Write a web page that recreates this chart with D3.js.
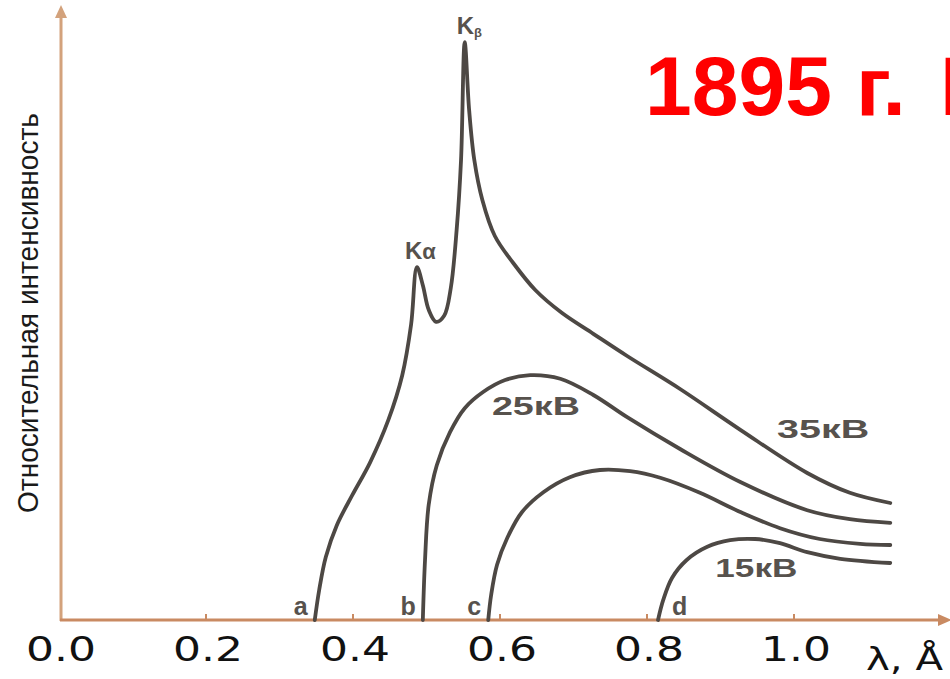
<!DOCTYPE html>
<html>
<head>
<meta charset="utf-8">
<script src="https://cdn.jsdelivr.net/npm/d3@7"></script>
<style>
  html, body { margin: 0; padding: 0; background: #fff; overflow: hidden; }
  svg { display: block; }
</style>
</head>
<body>
<svg id="chart" width="950" height="679"></svg>
<script>
// ---------- data (λ in Å, relative intensity in arbitrary units) ----------
const xTicks = [0.0, 0.2, 0.4, 0.6, 0.8, 1.0];
const xTickLabels = ["0.0", "0.2", "0.4", "0.6", "0.8", "1.0"];
const xAxisTitle = "λ, Å";
const yAxisTitle = "Относительная интенсивность";
const headlineParts = ["1895", "г.", "Рентген"];

const lam35 = [0.348,0.354,0.363,0.378,0.399,0.423,0.448,0.467,0.479,0.487,0.495,0.503,0.513,0.524,0.533,0.541,0.547,0.552,0.558,0.565,0.576,0.593,0.618,0.648,0.684,0.727,0.773,0.845,0.927,1.018,1.076,1.131];
const int35 = [0,5.0,10.5,15.8,20.8,26.2,33.3,40.8,49.2,58.8,55.8,51.7,49.7,50.7,55.3,65.0,76.7,96.3,85.0,76.7,70.0,64.0,59.5,55.0,51.2,47.7,44.0,38.5,31.7,24.5,21.2,19.5];

const lam25 = [0.495,0.498,0.503,0.514,0.532,0.552,0.577,0.607,0.641,0.682,0.727,0.773,0.845,0.927,1.018,1.076,1.131];
const int25 = [0,10.0,19.2,25.8,31.3,35.3,38.0,40.0,40.8,40.2,37.5,33.8,28.5,23.0,18.3,16.8,16.2];

const lam20 = [0.584,0.588,0.596,0.610,0.630,0.659,0.695,0.736,0.777,0.818,0.872,0.927,0.981,1.035,1.090,1.131];
const int20 = [0,4.2,9.2,13.7,18.0,21.3,23.8,25.0,24.8,23.7,21.2,18.0,15.3,13.5,12.7,12.5];

const lam15 = [0.815,0.822,0.834,0.854,0.882,0.913,0.947,0.981,1.018,1.063,1.131];
const int15 = [0,3.3,7.0,10.0,12.2,13.3,13.5,12.8,11.3,10.2,9.5];

const seriesNames = ["35кВ", "25кВ", "20кВ", "15кВ"];
const cutoffLetters = ["a", "b", "c", "d"];
const peakNames = ["Kα", "Kβ"];
const peakLam = [0.487, 0.552];
const peakInt = [58.8, 96.3];

// ---------- layout ----------
const svg = d3.select("#chart");
const x = d3.scaleLinear().domain([0, 1.2]).range([59, 941]);
const y = d3.scaleLinear().domain([0, 100]).range([620, 20]);

const axisY = y(0);
const axisX = x(0) + 2;

// axes (tan, like the scanned figure)
svg.append("line")
  .attr("x1", axisX).attr("y1", axisY + 1)
  .attr("x2", axisX).attr("y2", 14)
  .attr("stroke", "#d3a27c").attr("stroke-width", 3);
svg.append("path")
  .attr("d", `M${axisX - 6},18 L${axisX},5 L${axisX + 6},18 Z`)
  .attr("fill", "#d3a27c");

svg.append("line")
  .attr("x1", axisX - 1).attr("y1", axisY)
  .attr("x2", 944).attr("y2", axisY)
  .attr("stroke", "#c98a62").attr("stroke-width", 3);
svg.append("path")
  .attr("d", `M938,${axisY - 6} L952,${axisY} L938,${axisY + 6} Z`)
  .attr("fill", "#c98a62");

// small tick marks of the original figure
svg.selectAll("line.tick").data(xTicks.slice(1)).enter().append("line")
  .attr("class", "tick")
  .attr("x1", d => x(d)).attr("x2", d => x(d))
  .attr("y1", axisY).attr("y2", axisY - 6)
  .attr("stroke", "#c98a62").attr("stroke-width", 2);

// tick labels
svg.selectAll("text.xlab").data(xTicks).enter().append("text")
  .attr("class", "xlab")
  .attr("x", d => x(d) + 2)
  .attr("y", 661)
  .attr("text-anchor", "middle")
  .attr("font-family", "DejaVu Sans")
  .attr("font-size", 34)
  .attr("textLength", 70)
  .attr("lengthAdjust", "spacingAndGlyphs")
  .attr("fill", "#111")
  .text((d, i) => xTickLabels[i]);

svg.append("text")
  .attr("x", 866).attr("y", 670)
  .attr("font-family", "DejaVu Sans")
  .attr("font-size", 32)
  .attr("textLength", 77)
  .attr("lengthAdjust", "spacingAndGlyphs")
  .attr("fill", "#111")
  .text(xAxisTitle);

// y axis title
svg.append("text")
  .attr("transform", "translate(38,313) rotate(-90)")
  .attr("text-anchor", "middle")
  .attr("font-family", "Liberation Sans Narrow, Liberation Sans")
  .attr("font-size", 30)
  .attr("textLength", 400)
  .attr("lengthAdjust", "spacingAndGlyphs")
  .attr("fill", "#1a1a1a")
  .text(yAxisTitle);

// ---------- curves ----------
const line = d3.line()
  .x(d => x(d[0]))
  .y(d => y(d[1]))
  .curve(d3.curveCatmullRom.alpha(0.5));

const seriesData = [
  d3.zip(lam35, int35),
  d3.zip(lam25, int25),
  d3.zip(lam20, int20),
  d3.zip(lam15, int15)
];

svg.selectAll("path.curve").data(seriesData).enter().append("path")
  .attr("class", "curve")
  .attr("d", line)
  .attr("fill", "none")
  .attr("stroke", "#4d4844")
  .attr("stroke-width", 3.8)
  .attr("stroke-linejoin", "round")
  .attr("stroke-linecap", "round");

// ---------- annotations ----------
const labelFont = "Liberation Sans";
const labelColor = "#57524d";

// series labels (placed near their curves)
const seriesLabelPos = [
  { i: 0, lx: 0.977, ly: 30.3, w: 92 },
  { i: 1, lx: 0.589, ly: 34.2, w: 88 },
  { i: 3, lx: 0.893, ly: 7.2, w: 82 }
];
seriesLabelPos.forEach(p => {
  svg.append("text")
    .attr("x", x(p.lx)).attr("y", y(p.ly))
    .attr("font-family", labelFont)
    .attr("font-weight", "bold")
    .attr("font-size", 26)
    .attr("textLength", p.w)
    .attr("lengthAdjust", "spacingAndGlyphs")
    .attr("fill", labelColor)
    .text(seriesNames[p.i]);
});

// cut-off letters a, b, c, d at the start of each curve
seriesData.forEach((s, i) => {
  const x0 = s[0][0];
  svg.append("text")
    .attr("x", x(x0) - 7)
    .attr("y", axisY - 5)
    .attr("text-anchor", i === 3 ? "start" : "end")
    .attr("dx", i === 3 ? 21 : 0)
    .attr("font-family", labelFont)
    .attr("font-weight", "bold")
    .attr("font-size", 25)
    .attr("fill", labelColor)
    .text(cutoffLetters[i]);
});

// characteristic lines
const ka = svg.append("text")
  .attr("x", x(peakLam[0]) - 12)
  .attr("y", y(peakInt[0]) - 8)
  .attr("font-family", labelFont)
  .attr("font-weight", "bold")
  .attr("font-size", 24)
  .attr("fill", labelColor);
ka.append("tspan").text(peakNames[0][0]);
ka.append("tspan").attr("font-size", 22).text(peakNames[0].slice(1));

const kb = svg.append("text")
  .attr("x", x(peakLam[1]) - 8)
  .attr("y", y(peakInt[1]) - 8)
  .attr("font-family", labelFont)
  .attr("font-weight", "bold")
  .attr("font-size", 24)
  .attr("fill", labelColor);
kb.append("tspan").text(peakNames[1][0]);
kb.append("tspan").attr("font-size", 13).attr("dy", 3).text(peakNames[1].slice(1));

// red headline (runs off the right edge, as in the reference)
const head = svg.append("text")
  .attr("y", 115)
  .attr("font-family", "Liberation Sans")
  .attr("font-weight", "bold")
  .attr("font-size", 84)
  .attr("fill", "#ff0000");
head.append("tspan").attr("x", 645).text(headlineParts[0]);
head.append("tspan").attr("x", 856).text(headlineParts[1]);
head.append("tspan").attr("x", 940).text(headlineParts[2]);
</script>
</body>
</html>
